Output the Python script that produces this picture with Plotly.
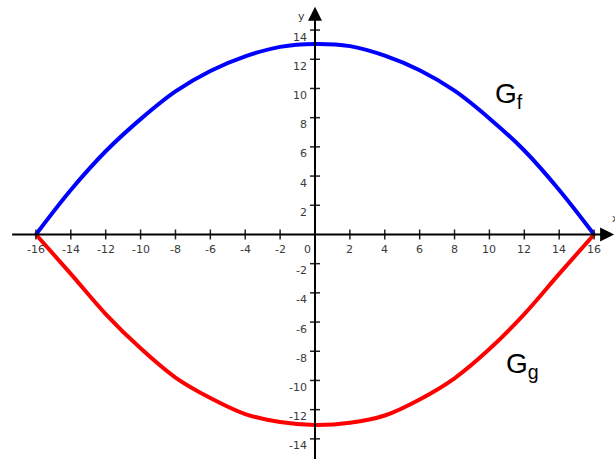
import plotly.graph_objects as go

# values
x_vals = [-16, -14, -12, -10, -8, -6, -4, -2, 0, 2, 4, 6, 8, 10, 12, 14, 16]
f_vals = [0, 3.05, 5.7, 7.9, 9.8, 11.2, 12.2, 12.85, 13.05, 12.9, 12.25, 11.25, 9.85, 7.95, 5.75, 3.05, 0]
g_vals = [0, -2.7, -5.45, -7.8, -9.8, -11.2, -12.3, -12.85, -13.05, -12.9, -12.4, -11.3, -9.85, -7.85, -5.45, -2.7, 0]

x_ticks = [-16, -14, -12, -10, -8, -6, -4, -2, 2, 4, 6, 8, 10, 12, 14, 16]
y_ticks = [-14, -12, -10, -8, -6, -4, -2, 2, 4, 6, 8, 10, 12, 14]

tick_font = {'family': 'DejaVu Sans', 'size': 11, 'color': '#3a3a3a'}

fig = go.Figure()

# graphs
fig.add_trace(go.Scatter(x=x_vals, y=f_vals, mode='lines', line_shape='spline',
	line={'width': 4, 'color': 'blue'}, showlegend=False, hoverinfo='skip'))
fig.add_trace(go.Scatter(x=x_vals, y=g_vals, mode='lines', line_shape='spline',
	line={'width': 4, 'color': 'red'}, showlegend=False, hoverinfo='skip'))

annotations = []
shapes = []

# axes with arrow heads
annotations.append(dict(x=17.15, y=0, ax=-17.45, ay=0, xref='x', yref='y', axref='x', ayref='y',
	showarrow=True, arrowhead=2, arrowsize=1.4, arrowwidth=2, arrowcolor='black', text=''))
annotations.append(dict(x=0, y=15.6, ax=0, ay=-16, xref='x', yref='y', axref='x', ayref='y',
	showarrow=True, arrowhead=2, arrowsize=1.4, arrowwidth=2, arrowcolor='black', text=''))

# tick marks and tick labels
for t in x_ticks:
	shapes.append(dict(type='line', xref='x', yref='y', ysizemode='pixel', yanchor=0,
		x0=t, x1=t, y0=-5, y1=5, line={'color': '#222', 'width': 1.5}))
	annotations.append(dict(x=t, y=0, xref='x', yref='y', text=str(t), showarrow=False,
		xanchor='center', yanchor='middle', yshift=-15, font=tick_font))
for t in y_ticks:
	shapes.append(dict(type='line', xref='x', yref='y', xsizemode='pixel', xanchor=0,
		x0=-5, x1=5, y0=t, y1=t, line={'color': '#222', 'width': 1.5}))
	annotations.append(dict(x=0, y=t, xref='x', yref='y', text=str(t), showarrow=False,
		xanchor='right', yanchor='middle', xshift=-6, yshift=-7, font=tick_font))
annotations.append(dict(x=0, y=0, xref='x', yref='y', text='0', showarrow=False,
	xanchor='right', yanchor='middle', xshift=-2, yshift=-15, font=tick_font))

# axis names
annotations.append(dict(x=0, y=15.6, xref='x', yref='y', text='y', showarrow=False,
	xanchor='right', yanchor='middle', xshift=-8, yshift=-10, font=tick_font))
annotations.append(dict(x=17.15, y=0, xref='x', yref='y', text='x', showarrow=False,
	xanchor='left', yanchor='middle', xshift=-4, yshift=16, font=tick_font))

# graph names
label_font = {'family': 'Liberation Sans', 'size': 28, 'color': 'black'}
annotations.append(dict(x=11.1, y=9.5, xref='x', yref='y', text='G<sub>f</sub>', showarrow=False,
	xanchor='center', yanchor='middle', font=label_font))
annotations.append(dict(x=11.9, y=-9.0, xref='x', yref='y', text='G<sub>g</sub>', showarrow=False,
	xanchor='center', yanchor='middle', font=label_font))

fig.update_layout(
	width=615, height=459,
	margin={'l': 0, 'r': 0, 't': 0, 'b': 0},
	plot_bgcolor='white', paper_bgcolor='white',
	xaxis={'range': [-18.06, 17.2], 'visible': False},
	yaxis={'range': [-15.38, 16.06], 'visible': False},
	shapes=shapes,
	annotations=annotations,
)

# page body has a default margin, drop it so the chart sits at the window corner
fig.write_html("out.html", config={'displayModeBar': False},
	post_script="document.body.style.margin='0';")
